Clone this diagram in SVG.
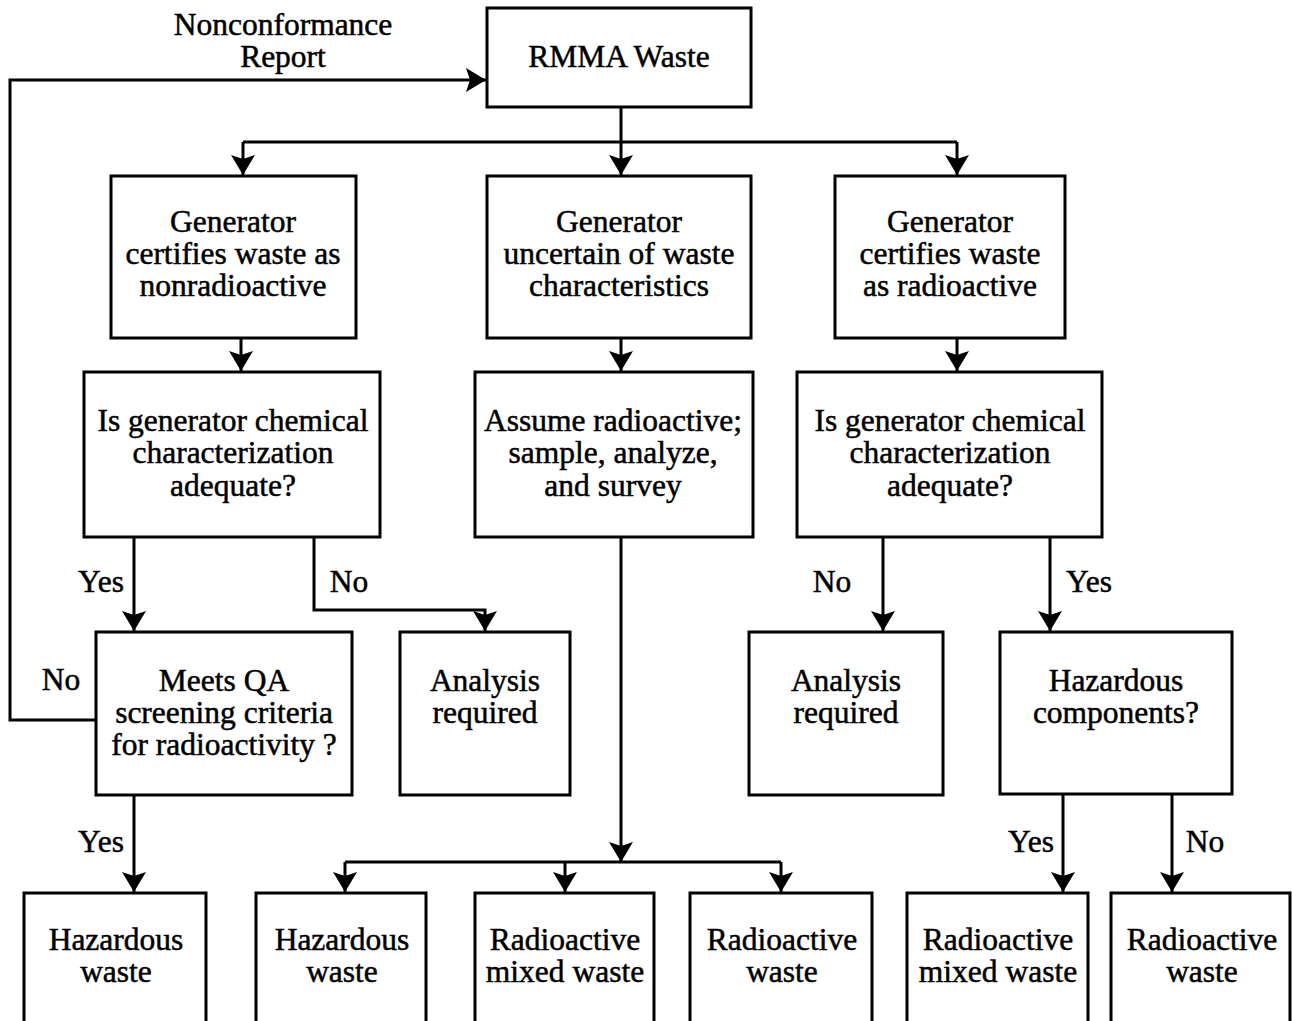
<svg xmlns="http://www.w3.org/2000/svg" width="1292" height="1021" viewBox="0 0 1292 1021">
  <style>
    .box { fill: #fff; stroke: #000; stroke-width: 3; }
    .ln { fill: none; stroke: #000; stroke-width: 3; }
    text { font-family: "Liberation Serif", "Times New Roman", serif; font-size: 31.5px; fill: #000; stroke: #000; stroke-width: 0.5; text-anchor: middle; }
  </style>
  <defs>
    <marker id="ah" viewBox="0 0 20 24" refX="20" refY="12" markerWidth="20" markerHeight="24" markerUnits="userSpaceOnUse" orient="auto">
      <path d="M0,0 L20,12 L0,24 L4,12 Z" fill="#000"/>
    </marker>
  </defs>

  <rect width="1292" height="1021" fill="#fff"/>

  <!-- connectors -->
  <g id="connectors">
    <!-- nonconformance loop back to the top -->
    <polyline class="ln" points="96,720 10,720 10,80 486,80" marker-end="url(#ah)"/>
    <!-- top split -->
    <line class="ln" x1="621" y1="107" x2="621" y2="142"/>
    <line class="ln" x1="243" y1="142" x2="957" y2="142"/>
    <line class="ln" x1="243" y1="142" x2="243" y2="175" marker-end="url(#ah)"/>
    <line class="ln" x1="621" y1="142" x2="621" y2="175" marker-end="url(#ah)"/>
    <line class="ln" x1="957" y1="142" x2="957" y2="175" marker-end="url(#ah)"/>
    <!-- row 2 to row 3 -->
    <line class="ln" x1="241" y1="338" x2="241" y2="371" marker-end="url(#ah)"/>
    <line class="ln" x1="621" y1="338" x2="621" y2="371" marker-end="url(#ah)"/>
    <line class="ln" x1="957" y1="338" x2="957" y2="371" marker-end="url(#ah)"/>
    <!-- left decision -->
    <line class="ln" x1="134" y1="537" x2="134" y2="631" marker-end="url(#ah)"/>
    <polyline class="ln" points="314,537 314,610 485,610 485,631" marker-end="url(#ah)"/>
    <!-- right decision -->
    <line class="ln" x1="883" y1="537" x2="883" y2="631" marker-end="url(#ah)"/>
    <line class="ln" x1="1050" y1="537" x2="1050" y2="631" marker-end="url(#ah)"/>
    <!-- middle path -->
    <line class="ln" x1="621" y1="537" x2="621" y2="862" marker-end="url(#ah)"/>
    <line class="ln" x1="345" y1="862" x2="781" y2="862"/>
    <line class="ln" x1="345" y1="862" x2="345" y2="892" marker-end="url(#ah)"/>
    <line class="ln" x1="565" y1="862" x2="565" y2="892" marker-end="url(#ah)"/>
    <line class="ln" x1="781" y1="862" x2="781" y2="892" marker-end="url(#ah)"/>
    <!-- bottom row -->
    <line class="ln" x1="134" y1="795" x2="134" y2="892" marker-end="url(#ah)"/>
    <line class="ln" x1="1063" y1="795" x2="1063" y2="892" marker-end="url(#ah)"/>
    <line class="ln" x1="1172" y1="795" x2="1172" y2="892" marker-end="url(#ah)"/>
  </g>

  <!-- connector labels -->
  <g id="labels">
    <text x="283" y="35">Nonconformance</text>
    <text x="283" y="67">Report</text>
    <text x="101" y="592">Yes</text>
    <text x="349" y="592">No</text>
    <text x="61" y="690">No</text>
    <text x="832" y="592">No</text>
    <text x="1089" y="592">Yes</text>
    <text x="101" y="852">Yes</text>
    <text x="1031" y="852">Yes</text>
    <text x="1205" y="852">No</text>
  </g>

  <g id="n-rmma">
    <rect class="box" x="487" y="8" width="264" height="99"/>
    <text x="619" y="67">RMMA Waste</text>
  </g>

  <g id="n-gen-nonrad">
    <rect class="box" x="111" y="176" width="245" height="162"/>
    <text x="233" y="232">Generator</text>
    <text x="233" y="264">certifies waste as</text>
    <text x="233" y="296">nonradioactive</text>
  </g>
  <g id="n-gen-uncertain">
    <rect class="box" x="487" y="176" width="264" height="162"/>
    <text x="619" y="232">Generator</text>
    <text x="619" y="264">uncertain of waste</text>
    <text x="619" y="296">characteristics</text>
  </g>
  <g id="n-gen-rad">
    <rect class="box" x="835" y="176" width="230" height="162"/>
    <text x="950" y="232">Generator</text>
    <text x="950" y="264">certifies waste</text>
    <text x="950" y="296">as radioactive</text>
  </g>

  <g id="n-chem-left">
    <rect class="box" x="84" y="372" width="296" height="165"/>
    <text x="233" y="431">Is generator chemical</text>
    <text x="233" y="463">characterization</text>
    <text x="233" y="496">adequate?</text>
  </g>
  <g id="n-assume">
    <rect class="box" x="475" y="372" width="278" height="165"/>
    <text x="613" y="431">Assume radioactive;</text>
    <text x="613" y="463">sample, analyze,</text>
    <text x="613" y="496">and survey</text>
  </g>
  <g id="n-chem-right">
    <rect class="box" x="797" y="372" width="305" height="165"/>
    <text x="950" y="431">Is generator chemical</text>
    <text x="950" y="463">characterization</text>
    <text x="950" y="496">adequate?</text>
  </g>

  <g id="n-qa">
    <rect class="box" x="96" y="632" width="256" height="163"/>
    <text x="224" y="691">Meets QA</text>
    <text x="224" y="723">screening criteria</text>
    <text x="224" y="755">for radioactivity ?</text>
  </g>
  <g id="n-analysis-left">
    <rect class="box" x="400" y="632" width="170" height="163"/>
    <text x="485" y="691">Analysis</text>
    <text x="485" y="723">required</text>
  </g>
  <g id="n-analysis-right">
    <rect class="box" x="749" y="632" width="194" height="163"/>
    <text x="846" y="691">Analysis</text>
    <text x="846" y="723">required</text>
  </g>
  <g id="n-hazcomp">
    <rect class="box" x="1000" y="632" width="232" height="162"/>
    <text x="1116" y="691">Hazardous</text>
    <text x="1116" y="723">components?</text>
  </g>

  <g id="n-haz1">
    <rect class="box" x="24" y="893" width="182" height="150"/>
    <text x="116" y="950">Hazardous</text>
    <text x="116" y="982">waste</text>
  </g>
  <g id="n-haz2">
    <rect class="box" x="256" y="893" width="170" height="150"/>
    <text x="342" y="950">Hazardous</text>
    <text x="342" y="982">waste</text>
  </g>
  <g id="n-mixed1">
    <rect class="box" x="475" y="893" width="179" height="150"/>
    <text x="565" y="950">Radioactive</text>
    <text x="565" y="982">mixed waste</text>
  </g>
  <g id="n-rad1">
    <rect class="box" x="690" y="893" width="182" height="150"/>
    <text x="782" y="950">Radioactive</text>
    <text x="782" y="982">waste</text>
  </g>
  <g id="n-mixed2">
    <rect class="box" x="907" y="893" width="181" height="150"/>
    <text x="998" y="950">Radioactive</text>
    <text x="998" y="982">mixed waste</text>
  </g>
  <g id="n-rad2">
    <rect class="box" x="1111" y="893" width="179" height="150"/>
    <text x="1202" y="950">Radioactive</text>
    <text x="1202" y="982">waste</text>
  </g>
</svg>
